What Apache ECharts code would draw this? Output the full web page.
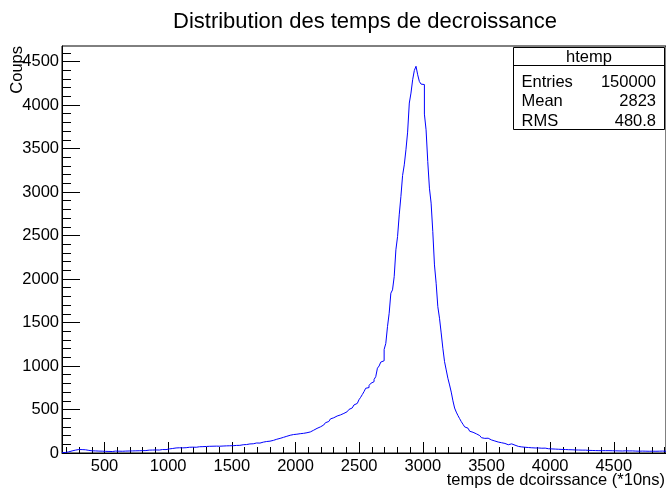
<!DOCTYPE html>
<html><head><meta charset="utf-8">
<script src="https://cdn.jsdelivr.net/npm/echarts@6/dist/echarts.min.js"></script>
<style>html,body{margin:0;padding:0;background:#fff}#c{width:666px;height:488px}</style>
</head><body><div id="c"></div>
<script>
// ---- data ----
const histXMin = 166;
const histXMax = 4910;
const yAxisMax = 4678;
const counts = [
  4, 6, 9, 13, 18, 24, 30, 33, 36, 40,
  42, 39, 41, 37, 34, 30, 27, 25, 28, 24,
  26, 22, 25, 21, 23, 19, 21, 18, 20, 17,
  19, 22, 18, 21, 23, 20, 24, 22, 25, 23,
  26, 24, 27, 25, 28, 26, 29, 27, 30, 28,
  31, 33, 30, 34, 32, 35, 37, 34, 38, 40,
  42, 39, 44, 47, 45, 52, 55, 58, 56, 60,
  62, 59, 63, 61, 64, 66, 63, 67, 69, 66,
  70, 72, 68, 73, 71, 75, 73, 77, 74, 78,
  76, 79, 81, 78, 82, 80, 84, 82, 85, 83,
  86, 84, 88, 87, 90, 88, 92, 95, 93, 97,
  101, 104, 108, 106, 112, 115, 118, 114, 121, 125,
  128, 132, 130, 136, 140, 145, 152, 158, 163, 168,
  174, 180, 186, 192, 199, 204, 207, 212, 210, 216,
  219, 222, 220, 226, 229, 233, 238, 242, 250, 262,
  275, 283, 291, 300, 312, 322, 336, 348, 362, 378,
  392, 405, 418, 425, 430, 438, 446, 455, 462, 475,
  488, 500, 518, 535, 552, 570, 592, 612, 640, 672,
  705, 744, 752, 775, 800, 820, 845, 877, 975, 1000,
  1045, 1060, 1190, 1260, 1452, 1606, 1837, 1875, 2027, 2335,
  2487, 2737, 2950, 3190, 3312, 3485, 3688, 4022, 4137, 4290,
  4397, 4445, 4347, 4270, 4240, 4235, 3895, 3715, 3350, 3044,
  2872, 2545, 2162, 1951, 1682, 1549, 1380, 1204, 1050, 955,
  859, 782, 700, 600, 517, 470, 430, 395, 360, 330,
  300, 285, 268, 250, 238, 228, 220, 205, 200, 188,
  176, 168, 185, 170, 155, 150, 142, 138, 130, 126,
  120, 118, 112, 110, 100, 95, 98, 105, 108, 90,
  80, 76, 74, 70, 72, 66, 68, 63, 65, 60,
  62, 58, 56, 58, 54, 55, 52, 56, 50, 49,
  50, 47, 48, 45, 46, 43, 44, 41, 42, 40,
  41, 38, 39, 37, 38, 35, 36, 34, 35, 33,
  32, 33, 31, 30, 31, 29, 30, 28, 29, 27,
  28, 27, 26, 27, 26, 27, 25, 26, 24, 25,
  26, 24, 25, 23, 24, 25, 23, 24, 22, 24,
  23, 22, 24, 21, 23, 22, 23, 21, 22, 20,
  22, 21, 23, 20, 22, 21, 20, 22, 21, 20
];
const xTickLabels = [500, 1000, 1500, 2000, 2500, 3000, 3500, 4000, 4500];
const yTickLabels = [0, 500, 1000, 1500, 2000, 2500, 3000, 3500, 4000, 4500];
const titleText = 'Distribution des temps de decroissance';
const xTitle = 'temps de dcoirssance (*10ns)';
const yTitle = 'Coups';
const statsName = 'htemp';
const statLabels = ['Entries', 'Mean', 'RMS'];
const statValues = ['150000', '2823', '480.8'];

// ---- build ----
const FONT = "'Liberation Sans', Arial, Helvetica, sans-serif";
const xMinor = [];
for (let v = 200; v < histXMax; v += 100) if (v % 500 !== 0) xMinor.push(v);
const yMinor = [];
for (let v = 100; v < yAxisMax; v += 100) if (v % 500 !== 0) yMinor.push(v);

const nBins = counts.length;
const bw = (histXMax - histXMin) / nBins;
const histData = counts.map((c, i) => [histXMin + i * bw, c]);
histData.push([histXMax, counts[nBins - 1]]);

const chart = echarts.init(document.getElementById('c'), null, {renderer: 'canvas'});
const lbl = {color: '#000', fontFamily: FONT, fontSize: 16.5, formatter: v => String(v)};
chart.setOption({
  animation: false,
  backgroundColor: '#fff',
  grid: {left: 62, right: -1, top: 46, bottom: 35, show: true, borderColor: '#000', borderWidth: 1},
  xAxis: [
    {type: 'value', min: histXMin, max: histXMax, position: 'bottom',
     axisLine: {show: true, lineStyle: {color: '#000', width: 1}},
     axisTick: {show: true, inside: true, length: 11, customValues: xTickLabels, lineStyle: {color: '#000'}},
     axisLabel: Object.assign({customValues: xTickLabels, margin: 5}, lbl),
     splitLine: {show: false}},
    {type: 'value', min: histXMin, max: histXMax, position: 'bottom',
     axisLine: {show: false},
     axisTick: {show: true, inside: true, length: 6, customValues: xMinor, lineStyle: {color: '#000'}},
     axisLabel: {show: false}, splitLine: {show: false}}
  ],
  yAxis: [
    {type: 'value', min: 0, max: yAxisMax, position: 'left',
     axisLine: {show: true, lineStyle: {color: '#000', width: 1}},
     axisTick: {show: true, inside: true, length: 18, customValues: yTickLabels, lineStyle: {color: '#000'}},
     axisLabel: Object.assign({customValues: yTickLabels, margin: 3}, lbl),
     splitLine: {show: false}},
    {type: 'value', min: 0, max: yAxisMax, position: 'left',
     axisLine: {show: false},
     axisTick: {show: true, inside: true, length: 9, customValues: yMinor, lineStyle: {color: '#000'}},
     axisLabel: {show: false}, splitLine: {show: false}}
  ],
  series: [{
    type: 'line', step: 'end', xAxisIndex: 0, yAxisIndex: 0,
    data: histData, symbol: 'none', showSymbol: false, silent: true,
    lineStyle: {color: '#0000ff', width: 1}
  }],
  graphic: [
    {type: 'text', x: 365, y: 21.5, z: 10,
     style: {text: titleText, fontSize: 22, fontFamily: FONT, fill: '#000', align: 'center', verticalAlign: 'middle'}},
    {type: 'text', x: 665, y: 480, z: 10,
     style: {text: xTitle, fontSize: 16.5, fontFamily: FONT, fill: '#000', align: 'right', verticalAlign: 'middle'}},
    {type: 'text', x: 17, y: 46, rotation: Math.PI / 2, z: 10,
     style: {text: yTitle, fontSize: 16.5, fontFamily: FONT, fill: '#000', align: 'right', verticalAlign: 'middle'}},
    {type: 'rect', z: 20, shape: {x: 513.5, y: 47.5, width: 151, height: 82},
     style: {fill: '#fff', stroke: '#000', lineWidth: 1}},
    {type: 'line', z: 21, shape: {x1: 513.5, y1: 65.5, x2: 664.5, y2: 65.5},
     style: {stroke: '#000', lineWidth: 1}},
    {type: 'text', x: 589, y: 57, z: 22,
     style: {text: statsName, fontSize: 16.5, fontFamily: FONT, fill: '#000', align: 'center', verticalAlign: 'middle'}}
  ].concat(statLabels.map((t, i) => ({
    type: 'text', x: 521.5, y: 82 + i * 19.6, z: 22,
    style: {text: t, fontSize: 16.5, fontFamily: FONT, fill: '#000', align: 'left', verticalAlign: 'middle'}
  }))).concat(statValues.map((t, i) => ({
    type: 'text', x: 656, y: 82 + i * 19.6, z: 22,
    style: {text: t, fontSize: 16.5, fontFamily: FONT, fill: '#000', align: 'right', verticalAlign: 'middle'}
  })))
});
</script></body></html>
